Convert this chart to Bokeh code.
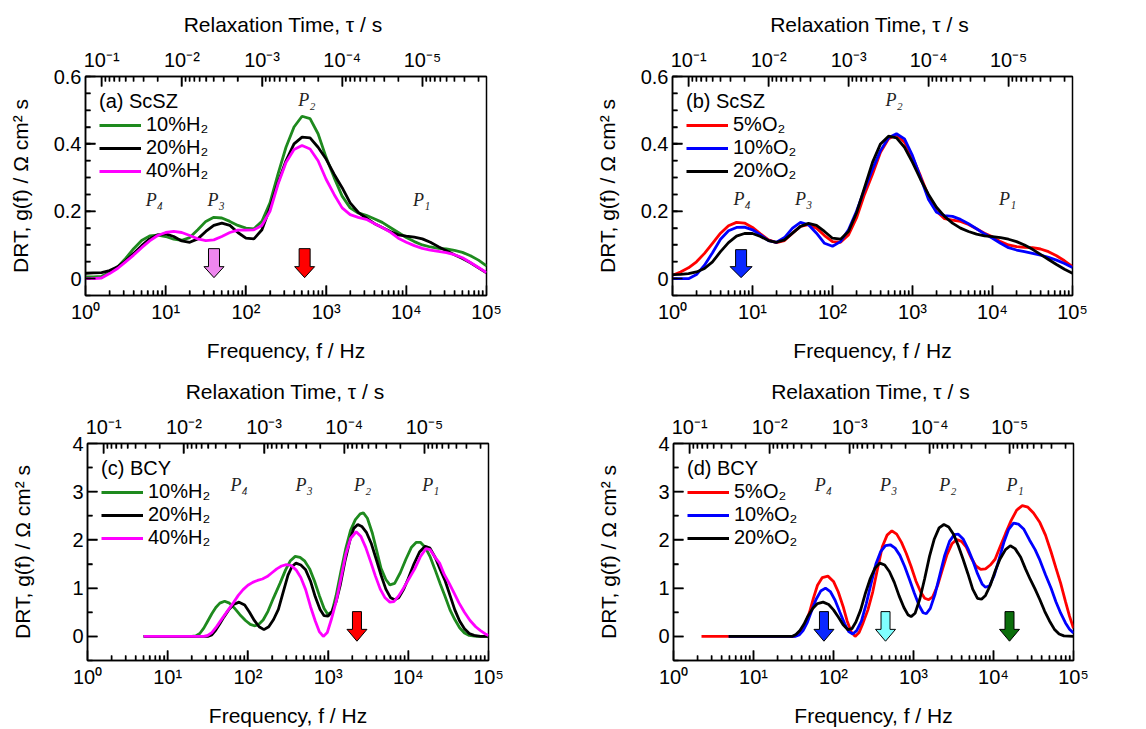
import numpy as np
from bokeh.plotting import figure
from bokeh.models import Range1d, LogAxis, FixedTicker, CustomJSTickFormatter
from bokeh.layouts import column, row
from bokeh.core.properties import value
from bokeh.embed import file_html
from bokeh.resources import INLINE

SANS = "Liberation Sans"
SERIF = "Liberation Serif"

# ---------------- data ----------------
# (a), (b) ScSZ : log10(frequency / Hz) sample positions
LOGF_SCSZ = [0.0, 0.1, 0.2, 0.3, 0.4, 0.5, 0.6, 0.7, 0.8, 0.9,
             1.0, 1.1, 1.2, 1.3, 1.4, 1.5, 1.6, 1.7, 1.8, 1.9,
             2.0, 2.1, 2.2, 2.3, 2.4, 2.5, 2.6, 2.7, 2.8, 2.9,
             3.0, 3.1, 3.2, 3.3, 3.4, 3.5, 3.6, 3.7, 3.8, 3.9,
             4.0, 4.1, 4.2, 4.3, 4.4, 4.5, 4.6, 4.7, 4.8, 4.9, 5.0]

A_H2_10 = [0.005, 0.005, 0.007, 0.018, 0.035, 0.06, 0.089, 0.113, 0.127, 0.129,
           0.125, 0.117, 0.114, 0.122, 0.145, 0.17, 0.182, 0.18, 0.17, 0.158,
           0.15, 0.148, 0.17, 0.225, 0.31, 0.39, 0.45, 0.482, 0.475, 0.43,
           0.36, 0.3, 0.245, 0.21, 0.195, 0.188, 0.178, 0.167, 0.152, 0.137,
           0.122, 0.11, 0.1, 0.094, 0.09, 0.088, 0.084, 0.078, 0.068, 0.055, 0.038]
A_H2_20 = [0.016, 0.017, 0.018, 0.024, 0.035, 0.053, 0.075, 0.098, 0.118, 0.13,
           0.133, 0.125, 0.112, 0.108, 0.118, 0.14, 0.158, 0.165, 0.158, 0.137,
           0.12, 0.118, 0.145, 0.21, 0.285, 0.35, 0.4, 0.42, 0.418, 0.39,
           0.355, 0.31, 0.27, 0.225, 0.197, 0.18, 0.164, 0.152, 0.14, 0.13,
           0.126, 0.123, 0.118, 0.108, 0.095, 0.083, 0.071, 0.06, 0.047, 0.032, 0.017]
A_H2_40 = [0.0, 0.0, 0.002, 0.015, 0.03, 0.05, 0.07, 0.092, 0.112, 0.128,
           0.137, 0.14, 0.137, 0.128, 0.118, 0.113, 0.115, 0.125, 0.137, 0.144,
           0.144, 0.145, 0.158, 0.2, 0.28, 0.345, 0.383, 0.395, 0.385, 0.35,
           0.295, 0.25, 0.21, 0.19, 0.182, 0.176, 0.164, 0.152, 0.138, 0.12,
           0.108, 0.098, 0.09, 0.085, 0.081, 0.077, 0.071, 0.062, 0.048, 0.033, 0.018]

B_O2_5 = [0.01, 0.02, 0.032, 0.05, 0.075, 0.105, 0.135, 0.157, 0.167, 0.165,
          0.152, 0.133, 0.115, 0.107, 0.113, 0.135, 0.155, 0.16, 0.15, 0.128,
          0.11, 0.108, 0.13, 0.18, 0.25, 0.31, 0.375, 0.415, 0.427, 0.405,
          0.36, 0.305, 0.245, 0.2, 0.178, 0.174, 0.17, 0.161, 0.148, 0.135,
          0.124, 0.11, 0.1, 0.095, 0.093, 0.092, 0.088, 0.08, 0.068, 0.053, 0.036]
B_O2_10 = [0.0, 0.0, 0.0, 0.012, 0.04, 0.077, 0.117, 0.142, 0.152, 0.153,
           0.145, 0.13, 0.113, 0.108, 0.122, 0.15, 0.167, 0.16, 0.135, 0.105,
           0.096, 0.11, 0.145, 0.2, 0.265, 0.325, 0.38, 0.418, 0.43, 0.415,
           0.365, 0.3, 0.235, 0.197, 0.187, 0.185, 0.176, 0.163, 0.148, 0.133,
           0.12, 0.105, 0.092, 0.085, 0.08, 0.075, 0.07, 0.063, 0.055, 0.045, 0.033]
B_O2_20 = [0.012, 0.013, 0.015, 0.02, 0.03, 0.05, 0.08, 0.107, 0.126, 0.134,
           0.134, 0.125, 0.113, 0.108, 0.115, 0.135, 0.155, 0.164, 0.158, 0.14,
           0.12, 0.117, 0.14, 0.195, 0.27, 0.345, 0.4, 0.423, 0.418, 0.39,
           0.345, 0.295, 0.25, 0.212, 0.185, 0.165, 0.15, 0.14, 0.132, 0.127,
           0.125, 0.122, 0.117, 0.11, 0.1, 0.087, 0.072, 0.057, 0.042, 0.028, 0.016]

# (c) BCY, H2
C_H2_10_LOGF = [0.70, 1.30, 1.35, 1.40, 1.45, 1.50, 1.55, 1.60, 1.65, 1.71, 1.77, 1.83, 1.90,
                1.97, 2.03, 2.08, 2.13, 2.19, 2.25, 2.32, 2.40, 2.47, 2.53, 2.59, 2.65, 2.71,
                2.77, 2.83, 2.89, 2.95, 3.00, 3.05, 3.10, 3.16, 3.22, 3.28, 3.34, 3.40, 3.44,
                3.49, 3.55, 3.61, 3.66, 3.72, 3.77, 3.83, 3.90, 3.97, 4.04, 4.10, 4.15, 4.21,
                4.27, 4.33, 4.40, 4.46, 4.52, 4.58, 4.64, 4.70, 4.76, 4.85, 5.00]
C_H2_10 = [0.0, 0.0, 0.01, 0.06, 0.17, 0.32, 0.47, 0.6, 0.69, 0.73, 0.69, 0.59, 0.45,
           0.33, 0.25, 0.22, 0.24, 0.34, 0.52, 0.8, 1.1, 1.38, 1.57, 1.66, 1.64, 1.56,
           1.4, 1.15, 0.85, 0.58, 0.45, 0.52, 0.85, 1.35, 1.82, 2.2, 2.42, 2.54, 2.56,
           2.45, 2.15, 1.75, 1.41, 1.18, 1.07, 1.1, 1.32, 1.6, 1.85, 1.95, 1.95, 1.85,
           1.66, 1.4, 1.08, 0.82, 0.55, 0.35, 0.18, 0.07, 0.02, 0.0, 0.0]
C_H2_20_LOGF = [0.70, 1.50, 1.55, 1.60, 1.65, 1.70, 1.76, 1.82, 1.89, 1.96, 2.02, 2.08, 2.14,
                2.20, 2.26, 2.32, 2.38, 2.44, 2.50, 2.55, 2.60, 2.66, 2.72, 2.78, 2.84, 2.90,
                2.95, 3.00, 3.05, 3.10, 3.15, 3.21, 3.27, 3.32, 3.37, 3.42, 3.48, 3.54, 3.60,
                3.66, 3.72, 3.78, 3.83, 3.88, 3.94, 4.00, 4.07, 4.14, 4.21, 4.27, 4.34, 4.40,
                4.46, 4.52, 4.58, 4.64, 4.70, 4.76, 4.82, 4.90, 5.00]
C_H2_20 = [0.0, 0.0, 0.03, 0.13, 0.26, 0.4, 0.55, 0.66, 0.71, 0.65, 0.5, 0.33, 0.2,
           0.14, 0.2, 0.35, 0.56, 0.92, 1.27, 1.45, 1.52, 1.48, 1.38, 1.15, 0.82, 0.56,
           0.43, 0.42, 0.52, 0.72, 1.05, 1.56, 1.98, 2.24, 2.32, 2.28, 2.15, 1.92, 1.6,
           1.27, 0.98, 0.8, 0.76, 0.8, 0.97, 1.2, 1.5, 1.75, 1.87, 1.83, 1.62, 1.38,
           1.15, 0.85, 0.55, 0.32, 0.16, 0.06, 0.02, 0.0, 0.0]
C_H2_40_LOGF = [0.70, 1.45, 1.50, 1.55, 1.60, 1.65, 1.70, 1.76, 1.82, 1.88, 1.94, 2.00, 2.06,
                2.12, 2.18, 2.24, 2.30, 2.36, 2.42, 2.48, 2.54, 2.60, 2.66, 2.72, 2.78, 2.84,
                2.89, 2.94, 2.99, 3.04, 3.10, 3.16, 3.22, 3.28, 3.35, 3.41, 3.47, 3.53, 3.59,
                3.65, 3.71, 3.77, 3.82, 3.88, 3.94, 4.01, 4.08, 4.15, 4.22, 4.27, 4.33, 4.39,
                4.45, 4.51, 4.57, 4.63, 4.70, 4.77, 4.84, 4.90, 4.96, 5.00]
C_H2_40 = [0.0, 0.0, 0.02, 0.08, 0.18, 0.3, 0.42, 0.56, 0.7, 0.85, 0.97, 1.06, 1.12,
           1.16, 1.19, 1.24, 1.32, 1.4, 1.46, 1.49, 1.47, 1.38, 1.22, 0.97, 0.62, 0.32,
           0.1, 0.0, 0.08, 0.35, 0.72, 1.2, 1.7, 2.03, 2.17, 2.07, 1.84, 1.55, 1.25,
           0.98, 0.8, 0.71, 0.72, 0.84, 1.0, 1.2, 1.4, 1.65, 1.82, 1.8, 1.65, 1.52,
           1.28, 1.1, 0.9, 0.7, 0.5, 0.33, 0.2, 0.12, 0.05, 0.02]

# (d) BCY, O2
D_O2_5_LOGF = [0.35, 1.50, 1.55, 1.60, 1.65, 1.70, 1.75, 1.80, 1.86, 1.93, 2.00, 2.06, 2.12,
               2.17, 2.22, 2.27, 2.32, 2.37, 2.43, 2.49, 2.55, 2.61, 2.67, 2.73, 2.79, 2.85,
               2.91, 2.97, 3.03, 3.09, 3.14, 3.19, 3.24, 3.30, 3.36, 3.42, 3.48, 3.54, 3.60,
               3.66, 3.72, 3.78, 3.84, 3.90, 3.96, 4.02, 4.08, 4.15, 4.22, 4.29, 4.36, 4.43,
               4.50, 4.58, 4.65, 4.72, 4.78, 4.84, 4.90, 4.95, 5.00]
D_O2_5 = [0.0, 0.0, 0.04, 0.12, 0.27, 0.5, 0.8, 1.06, 1.22, 1.25, 1.14, 0.92, 0.62,
          0.32, 0.1, 0.0, 0.08, 0.28, 0.55, 0.92, 1.4, 1.86, 2.1, 2.19, 2.12, 1.95,
          1.72, 1.45, 1.15, 0.92, 0.79, 0.76, 0.82, 1.05, 1.38, 1.7, 1.92, 2.01, 1.97,
          1.85, 1.63, 1.46, 1.39, 1.4, 1.48, 1.6, 1.85, 2.13, 2.4, 2.62, 2.71, 2.68,
          2.56, 2.36, 2.1, 1.75, 1.42, 1.1, 0.72, 0.42, 0.17]
D_O2_10_LOGF = [0.69, 1.52, 1.57, 1.62, 1.67, 1.72, 1.78, 1.84, 1.90, 1.96, 2.02, 2.08, 2.14,
                2.19, 2.24, 2.29, 2.35, 2.41, 2.47, 2.53, 2.59, 2.65, 2.71, 2.77, 2.83, 2.89,
                2.95, 3.01, 3.07, 3.12, 3.16, 3.21, 3.27, 3.33, 3.39, 3.45, 3.51, 3.56, 3.62,
                3.68, 3.74, 3.80, 3.86, 3.90, 3.95, 4.01, 4.07, 4.13, 4.19, 4.25, 4.31, 4.38,
                4.45, 4.52, 4.58, 4.65, 4.72, 4.78, 4.84, 4.90, 4.95, 5.00]
D_O2_10 = [0.0, 0.0, 0.03, 0.12, 0.28, 0.5, 0.76, 0.94, 1.0, 0.93, 0.75, 0.5, 0.26,
           0.1, 0.05, 0.12, 0.32, 0.68, 1.1, 1.5, 1.76, 1.88, 1.9, 1.83, 1.68, 1.45,
           1.18, 0.9, 0.64, 0.49, 0.47, 0.58, 0.88, 1.28, 1.68, 1.97, 2.11, 2.12, 2.02,
           1.82, 1.58, 1.3, 1.08, 1.02, 1.05, 1.27, 1.6, 1.95, 2.22, 2.35, 2.33, 2.22,
           2.0, 1.8, 1.58, 1.28, 1.0, 0.72, 0.48, 0.28, 0.15, 0.07]
D_O2_20_LOGF = [0.69, 1.48, 1.53, 1.58, 1.63, 1.68, 1.74, 1.80, 1.87, 1.94, 2.00, 2.06, 2.12,
                2.18, 2.23, 2.28, 2.34, 2.40, 2.46, 2.52, 2.58, 2.64, 2.70, 2.76, 2.82, 2.88,
                2.93, 2.97, 3.02, 3.08, 3.14, 3.20, 3.26, 3.32, 3.38, 3.44, 3.50, 3.56, 3.62,
                3.68, 3.74, 3.80, 3.85, 3.90, 3.96, 4.02, 4.08, 4.15, 4.21, 4.27, 4.34, 4.40,
                4.46, 4.52, 4.58, 4.64, 4.70, 4.76, 4.82, 4.88, 5.00]
D_O2_20 = [0.0, 0.0, 0.04, 0.12, 0.25, 0.42, 0.58, 0.68, 0.71, 0.66, 0.55, 0.4, 0.24,
           0.14, 0.16, 0.3, 0.55, 0.9, 1.2, 1.42, 1.52, 1.48, 1.34, 1.12, 0.84, 0.6,
           0.45, 0.41, 0.48, 0.78, 1.2, 1.66, 2.02, 2.25, 2.32, 2.27, 2.12, 1.88, 1.6,
           1.3, 0.98, 0.79, 0.77, 0.85, 1.06, 1.35, 1.6, 1.8, 1.88, 1.82, 1.64, 1.4,
           1.18, 0.98, 0.76, 0.52, 0.32, 0.15, 0.05, 0.01, 0.0]

H2_LABELS = ["10%H₂", "20%H₂", "40%H₂"]
O2_LABELS = ["5%O₂", "10%O₂", "20%O₂"]
PEAK_NAMES = ["P₄", "P₃", "P₂", "P₁"]
A_PEAK_LOGF = [0.86, 1.63, 2.76, 4.19]
A_PEAK_Y = [0.232, 0.232, 0.529, 0.232]
B_PEAK_LOGF = [0.87, 1.64, 2.77, 4.19]
B_PEAK_Y = [0.235, 0.235, 0.53, 0.235]
C_PEAK_LOGF = [1.89, 2.70, 3.43, 4.28]
C_PEAK_Y = [3.13, 3.13, 3.13, 3.13]
D_PEAK_LOGF = [1.875, 2.69, 3.43, 4.27]
D_PEAK_Y = [3.14, 3.14, 3.14, 3.14]

# arrows marking frequencies (Hz)
A_ARROW_F = [40, 540]
A_ARROW_C = ["#ef86ef", "#ff0000"]
B_ARROW_F = [7.2]
B_ARROW_C = ["#0a28ff"]
C_ARROW_F = [2290]
C_ARROW_C = ["#ff0000"]
D_ARROW_F = [76, 447, 15850]
D_ARROW_C = ["#0a28ff", "#80ffff", "#0b6e0b"]

# tick values
F_MAJOR = [1, 10, 100, 1000, 10000, 100000]
F_MINOR = [m * 10.0 ** k for k in range(0, 5) for m in range(2, 10)]
TAU_MAJOR = [1e-1, 1e-2, 1e-3, 1e-4, 1e-5]
TAU_MINOR = [m * 10.0 ** k for k in range(-6, 0) for m in range(2, 10)]

GREEN = "#1e8a1e"
MAGENTA = "#ff00ff"
RED = "#ff0000"
BLUE = "#0000ff"
BLACK = "#000000"

BOTTOM_FMT = """
const sup = {"-":"⁻","0":"⁰","1":"¹","2":"²","3":"³","4":"⁴","5":"⁵","6":"⁶","7":"⁷","8":"⁸","9":"⁹"};
const e = Math.round(Math.log10(tick));
return "10" + String(e).split("").map(c => sup[c]).join("");
"""
TOP_FMT = """
const sup = {"-":"⁻","0":"⁰","1":"¹","2":"²","3":"³","4":"⁴","5":"⁵","6":"⁶","7":"⁷","8":"⁸","9":"⁹"};
const e = Math.round(Math.log10(1/(2*Math.PI*tick)));
return "10" + String(e).split("").map(c => sup[c]).join("");
"""


def tau_to_f(t):
    return float(1.0 / (2 * np.pi * t))


def style_axis(ax, label_standoff, tick_standoff):
    ax.axis_label_text_font = SANS
    ax.axis_label_text_font_size = "21px"
    ax.axis_label_text_font_style = "normal"
    ax.axis_label_text_color = "black"
    ax.major_label_text_font = SANS
    ax.major_label_text_font_size = "20px"
    ax.major_label_text_color = "black"
    ax.major_tick_in = 10
    ax.major_tick_out = 0
    ax.minor_tick_in = 5
    ax.minor_tick_out = 0
    ax.major_tick_line_color = "black"
    ax.minor_tick_line_color = "black"
    ax.major_tick_line_width = 1.5
    ax.minor_tick_line_width = 1.3
    ax.axis_line_width = 1.5
    ax.axis_line_color = "black"
    ax.axis_label_standoff = label_standoff
    ax.major_label_standoff = tick_standoff


def make_panel(width, height, bl, br, bt, bb, ylo, yhi, yticks, yminor, yfmt, ylab_standoff):
    p = figure(width=width, height=height, x_axis_type="log",
               x_range=Range1d(1, 1e5), y_range=Range1d(ylo, yhi),
               output_backend="svg", toolbar_location=None,
               min_border_left=bl, min_border_right=br,
               min_border_top=bt, min_border_bottom=bb)
    p.border_fill_color = "white"
    p.outline_line_color = "black"
    p.outline_line_width = 1.5
    p.xgrid.visible = False
    p.ygrid.visible = False

    bx = p.xaxis[0]
    bx.ticker = FixedTicker(ticks=F_MAJOR, minor_ticks=F_MINOR)
    bx.formatter = CustomJSTickFormatter(code=BOTTOM_FMT)
    bx.axis_label = "Frequency, f / Hz"
    style_axis(bx, 13, 5)

    top_minor = [tau_to_f(t) for t in TAU_MINOR if 1 <= tau_to_f(t) <= 1e5]
    top = LogAxis(ticker=FixedTicker(ticks=[tau_to_f(t) for t in TAU_MAJOR], minor_ticks=top_minor),
                  formatter=CustomJSTickFormatter(code=TOP_FMT),
                  axis_label="Relaxation Time,  τ / s")
    style_axis(top, 10, 6)
    p.add_layout(top, "above")

    ly = p.yaxis[0]
    ly.ticker = FixedTicker(ticks=yticks, minor_ticks=yminor)
    ly.formatter = CustomJSTickFormatter(code=yfmt)
    ly.axis_label = "DRT, g(f) / Ω cm² s"
    style_axis(ly, ylab_standoff, 4)

    # inward tick marks as thin filled bars centred on the frame edge
    # (the outer half is clipped by the frame; major 10 px, minor 5 px inside)
    vx, vy, vh = [], [], []
    for ticks, ln in ((F_MAJOR, 20), (F_MINOR, 10)):
        for fv in ticks:
            if 1 < fv < 1e5:
                vx.append(float(fv)); vy.append(float(ylo)); vh.append(ln)
    for ticks, ln in ((TAU_MAJOR, 20), (TAU_MINOR, 10)):
        for t in ticks:
            fv = tau_to_f(t)
            if 1 < fv < 1e5:
                vx.append(fv); vy.append(float(yhi)); vh.append(ln)
    p.rect(x=vx, y=vy, width=1.5, height=vh, width_units="screen", height_units="screen",
           fill_color="black", line_color=None)
    hx, hy, hw = [], [], []
    for ticks, ln in ((yticks, 20), (yminor, 10)):
        for yv in ticks:
            if ylo < yv < yhi:
                hx.append(1.0); hy.append(float(yv)); hw.append(ln)
    p.rect(x=hx, y=hy, width=hw, height=1.5, width_units="screen", height_units="screen",
           fill_color="black", line_color=None)

    fw = width - bl - br
    fh = height - bt - bb
    return p, fw / 5.0, fh / (yhi - ylo)


def add_arrows(p, freqs, colors, y_tip, pxdec, pxunit, shaft_hw, head_hw, shaft_len, head_len):
    for fq, col in zip(freqs, colors):
        dx = np.array([-shaft_hw, shaft_hw, shaft_hw, head_hw, 0, -head_hw, -shaft_hw])
        dy = np.array([shaft_len + head_len, shaft_len + head_len, head_len, head_len, 0, head_len, head_len])
        xs = fq * 10 ** (dx / pxdec)
        ys = y_tip + dy / pxunit
        p.patch(list(xs), list(ys), fill_color=col, line_color="black", line_width=1)


def add_peaks(p, logf, ys):
    p.text(x=[10 ** v for v in logf], y=ys, text=PEAK_NAMES,
           text_font=value(SERIF), text_font_style="italic", text_font_size="18px",
           text_color="#222222", text_align="center", text_baseline="middle")


def style_legend(p, title):
    lg = p.legend[0]
    lg.title = title
    lg.title_text_font = SANS
    lg.title_text_font_size = "20px"
    lg.title_text_font_style = "normal"
    lg.title_text_color = "black"
    lg.title_standoff = 0
    lg.label_text_font = SANS
    lg.label_text_font_size = "20px"
    lg.label_text_color = "black"
    lg.location = "top_left"
    lg.margin = 4
    lg.padding = 10
    lg.spacing = -5
    lg.glyph_width = 42
    lg.glyph_height = 18
    lg.label_height = 18
    lg.label_standoff = 5
    lg.border_line_alpha = 0
    lg.background_fill_alpha = 0


def lf(arr):
    return [10 ** v for v in arr]


LW = 2.8
Y_SMALL_TICKS = [0.0, 0.2, 0.4, 0.6]
Y_SMALL_MINOR = [round(-0.05 + 0.05 * i, 2) for i in range(14)]
Y_BIG_TICKS = [0, 1, 2, 3, 4]
Y_BIG_MINOR = [-0.5, 0.5, 1.5, 2.5, 3.5]
FMT_SMALL = "return tick == 0 ? '0' : tick.toFixed(1);"
FMT_BIG = "return tick.toFixed(0);"

# ---- (a)
pa, dxa, dya = make_panel(573, 368, 85, 87, 76, 73, -0.05, 0.6, Y_SMALL_TICKS, Y_SMALL_MINOR, FMT_SMALL, 19)
pa.line(lf(LOGF_SCSZ), A_H2_10, line_color=GREEN, line_width=LW, legend_label=H2_LABELS[0])
pa.line(lf(LOGF_SCSZ), A_H2_20, line_color=BLACK, line_width=LW, legend_label=H2_LABELS[1])
pa.line(lf(LOGF_SCSZ), A_H2_40, line_color=MAGENTA, line_width=LW, legend_label=H2_LABELS[2])
add_arrows(pa, A_ARROW_F, A_ARROW_C, 0.003, dxa, dya, 5.5, 10, 18, 11)
add_peaks(pa, A_PEAK_LOGF, A_PEAK_Y)
style_legend(pa, "(a) ScSZ")

# ---- (b)
pb, dxb, dyb = make_panel(573, 368, 99, 74, 76, 73, -0.05, 0.6, Y_SMALL_TICKS, Y_SMALL_MINOR, FMT_SMALL, 19)
pb.line(lf(LOGF_SCSZ), B_O2_5, line_color=RED, line_width=LW, legend_label=O2_LABELS[0])
pb.line(lf(LOGF_SCSZ), B_O2_10, line_color=BLUE, line_width=LW, legend_label=O2_LABELS[1])
pb.line(lf(LOGF_SCSZ), B_O2_20, line_color=BLACK, line_width=LW, legend_label=O2_LABELS[2])
add_arrows(pb, B_ARROW_F, B_ARROW_C, 0.003, dxb, dyb, 5.5, 11, 17, 11)
add_peaks(pb, B_PEAK_LOGF, B_PEAK_Y)
style_legend(pb, "(b) ScSZ")

# ---- (c)
pc, dxc, dyc = make_panel(573, 361, 87, 85, 75, 66, -0.5, 4, Y_BIG_TICKS, Y_BIG_MINOR, FMT_BIG, 35)
pc.line(lf(C_H2_10_LOGF), C_H2_10, line_color=GREEN, line_width=LW, legend_label=H2_LABELS[0])
pc.line(lf(C_H2_20_LOGF), C_H2_20, line_color=BLACK, line_width=LW, legend_label=H2_LABELS[1])
pc.line(lf(C_H2_40_LOGF), C_H2_40, line_color=MAGENTA, line_width=LW, legend_label=H2_LABELS[2])
add_arrows(pc, C_ARROW_F, C_ARROW_C, -0.1, dxc, dyc, 4.5, 10, 18, 12)
add_peaks(pc, C_PEAK_LOGF, C_PEAK_Y)
style_legend(pc, "(c) BCY")

# ---- (d)
pd, dxd, dyd = make_panel(573, 361, 100, 73, 75, 66, -0.5, 4, Y_BIG_TICKS, Y_BIG_MINOR, FMT_BIG, 35)
pd.line(lf(D_O2_5_LOGF), D_O2_5, line_color=RED, line_width=LW, legend_label=O2_LABELS[0])
pd.line(lf(D_O2_10_LOGF), D_O2_10, line_color=BLUE, line_width=LW, legend_label=O2_LABELS[1])
pd.line(lf(D_O2_20_LOGF), D_O2_20, line_color=BLACK, line_width=LW, legend_label=O2_LABELS[2])
add_arrows(pd, D_ARROW_F, D_ARROW_C, -0.1, dxd, dyd, 4.5, 10, 18, 12)
add_peaks(pd, D_PEAK_LOGF, D_PEAK_Y)
style_legend(pd, "(d) BCY")

layout = column(row(pa, pb), row(pc, pd))
open("out.html", "w").write(file_html(layout, INLINE))
